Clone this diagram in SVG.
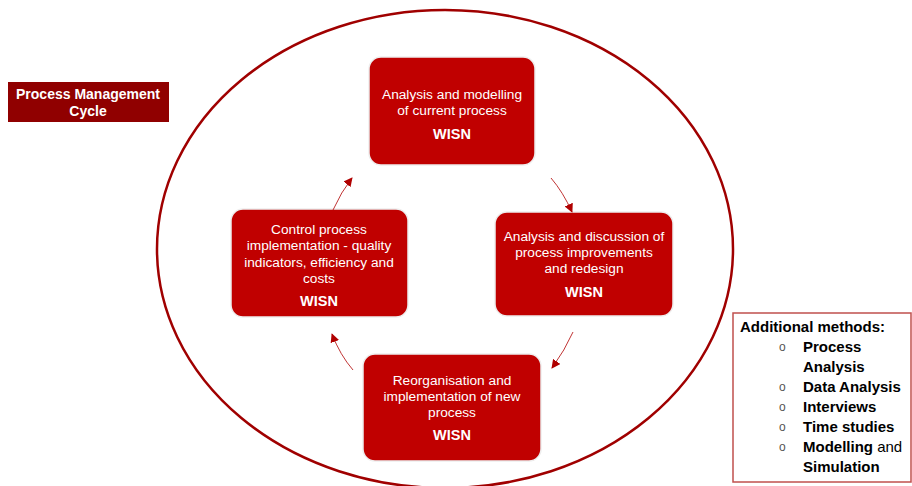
<svg xmlns="http://www.w3.org/2000/svg" width="912" height="486" viewBox="0 0 912 486">
  <defs>
    <marker id="arrow" viewBox="0 0 10 10" refX="9" refY="5" markerWidth="9" markerHeight="9" markerUnits="userSpaceOnUse" orient="auto">
      <path d="M0,0 L10,5 L0,10 z" fill="#b00000"/>
    </marker>
  </defs>
  <style>
    .step { fill: #c00000; stroke: #eeeeee; stroke-width: 1.5; }
    .label { font-family: "Liberation Sans", Arial, sans-serif; font-size: 13.7px; fill: #ffffff; text-anchor: middle; }
    .wisn { font-family: "Liberation Sans", Arial, sans-serif; font-size: 14.5px; font-weight: bold; fill: #ffffff; text-anchor: middle; }
    .flow { fill: none; stroke: #b00000; stroke-width: 0.8; marker-end: url(#arrow); }
    .methods { font-family: "Liberation Sans", Arial, sans-serif; font-size: 15px; font-weight: bold; fill: #000000; }
    .bullet { font-family: "Liberation Sans", Arial, sans-serif; font-size: 12px; fill: #555555; }
  </style>
  <rect width="912" height="486" fill="#ffffff"/>

  <!-- outer cycle ring -->
  <ellipse cx="445" cy="249" rx="288" ry="239" fill="none" stroke="#a00000" stroke-width="2.5"/>

  <!-- title -->
  <g id="title">
    <rect x="8" y="82" width="161" height="40" fill="#900000"/>
    <text x="88" y="99" font-family="Liberation Sans, Arial, sans-serif" font-size="14" font-weight="bold" fill="#ffffff" text-anchor="middle">Process Management</text>
    <text x="88" y="116" font-family="Liberation Sans, Arial, sans-serif" font-size="14" font-weight="bold" fill="#ffffff" text-anchor="middle">Cycle</text>
  </g>

  <g id="step-analysis">
    <rect class="step" x="369" y="57" width="166" height="108" rx="12"/>
    <text class="label" x="452" y="99">Analysis and modelling</text>
    <text class="label" x="452" y="115">of current process</text>
    <text class="wisn" x="452" y="139">WISN</text>
  </g>

  <g id="step-redesign">
    <rect class="step" x="495" y="212" width="178" height="104" rx="12"/>
    <text class="label" x="584" y="241">Analysis and discussion of</text>
    <text class="label" x="584" y="257">process improvements</text>
    <text class="label" x="584" y="273">and redesign</text>
    <text class="wisn" x="584" y="297">WISN</text>
  </g>

  <g id="step-implementation">
    <rect class="step" x="363" y="354" width="178" height="107" rx="12"/>
    <text class="label" x="452" y="385">Reorganisation and</text>
    <text class="label" x="452" y="401">implementation of new</text>
    <text class="label" x="452" y="417">process</text>
    <text class="wisn" x="452" y="440">WISN</text>
  </g>

  <g id="step-control">
    <rect class="step" x="231" y="209" width="177" height="108" rx="12"/>
    <text class="label" x="319" y="234">Control process</text>
    <text class="label" x="319" y="250">implementation - quality</text>
    <text class="label" x="319" y="267">indicators, efficiency and</text>
    <text class="label" x="319" y="283">costs</text>
    <text class="wisn" x="319" y="306">WISN</text>
  </g>

  <!-- cycle connectors -->
  <g id="connectors">
    <path class="flow" d="M551,178 Q563,192 572,212"/>
    <path class="flow" d="M573,332 Q565,350 552,368"/>
    <path class="flow" d="M353,370 Q340,355 332,334"/>
    <path class="flow" d="M333,210 Q341,192 352,178"/>
  </g>

  <!-- side list -->
  <g id="methods">
    <rect x="733" y="313" width="178" height="169" fill="#ffffff" stroke="#c0504d" stroke-width="1.5"/>
    <text class="methods" x="740" y="332">Additional methods:</text>
    <text class="bullet" x="779" y="351">o</text>
    <text class="methods" x="803" y="352">Process</text>
    <text class="methods" x="803" y="372">Analysis</text>
    <text class="bullet" x="779" y="391">o</text>
    <text class="methods" x="803" y="392">Data Analysis</text>
    <text class="bullet" x="779" y="411">o</text>
    <text class="methods" x="803" y="412">Interviews</text>
    <text class="bullet" x="779" y="431">o</text>
    <text class="methods" x="803" y="432">Time studies</text>
    <text class="bullet" x="779" y="451">o</text>
    <text class="methods" x="803" y="452">Modelling <tspan font-weight="normal">and</tspan></text>
    <text class="methods" x="803" y="472">Simulation</text>
  </g>
</svg>
